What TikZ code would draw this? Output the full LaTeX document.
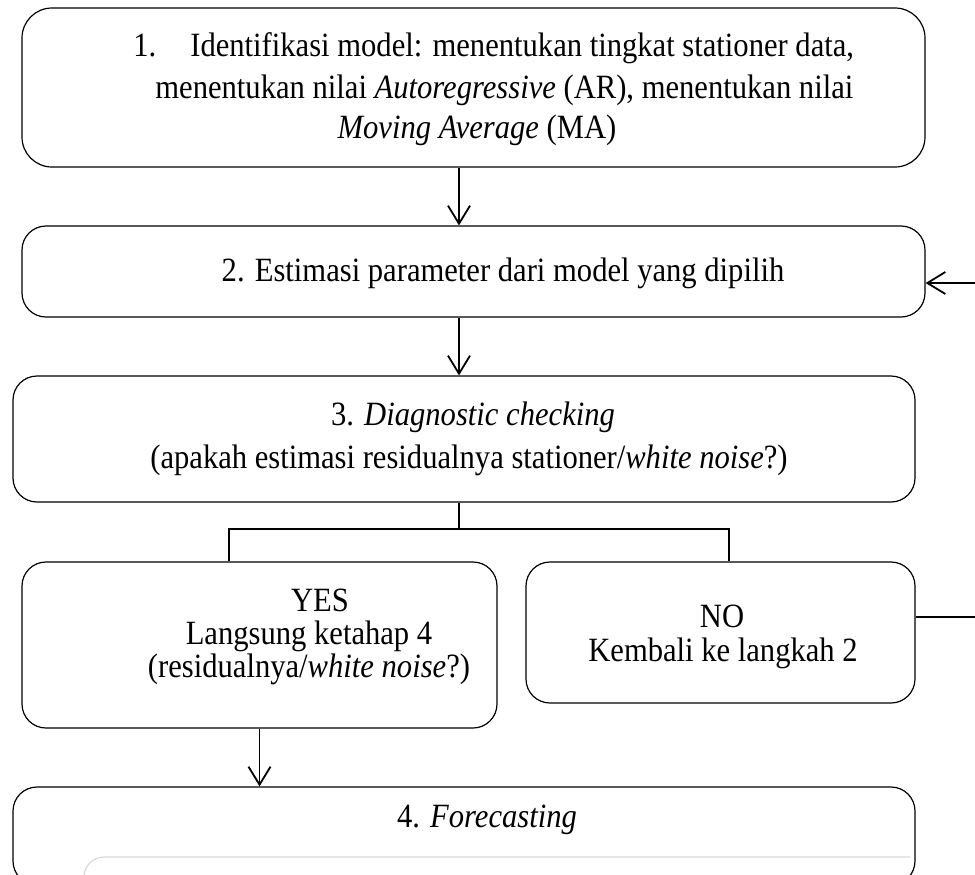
\documentclass[tikz,border=0pt]{standalone}
\usepackage{fontspec}
\setmainfont{Liberation Serif}[FakeStretch=0.9]
\usetikzlibrary{arrows.meta,positioning}
\tikzset{
stage/.style={draw,line width=.6pt,rounded corners=12pt,inner sep=0pt},
txt/.style={anchor=base,inner sep=0pt,font=\fontsize{17}{20}\selectfont},
flow/.style={-{Straight Barb[length=9pt,width=11pt,line width=.9pt]},line width=.9pt},
link/.style={line width=.9pt}
}

\begin{document}
\begin{tikzpicture}[x=.5pt,y=-.5pt]
\clip (0,0) rectangle (975,874);
% boxes
\node[stage,rounded corners=15pt,minimum width=451.5pt,minimum height=79.5pt](ident) at (473.5,87.5){};
\node[stage,minimum width=451.5pt,minimum height=45.5pt](estim) at (473.5,271.5){};
\node[stage,minimum width=451pt,minimum height=63pt](diag) at (464,439){};
\node[stage,minimum width=237.5pt,minimum height=83pt](yes) at (259.5,645){};
\node[stage,minimum width=194.5pt,minimum height=70.5pt](no) at (720.5,632.5){};
\node[stage,minimum width=451pt,minimum height=49pt](fcast) at (464,836){};
% texts
\node[txt,anchor=base west](t1a) at (133,56){1.\hspace{17pt}Identifikasi model: menentukan tingkat stationer data,};
\node[txt,anchor=base west](t1b) at (155,98){menentukan nilai \textit{Autoregressive} (AR), menentukan nilai};
\node[txt](t1c) at (477,138){\textit{Moving Average} (MA)};
\node[txt](t2) at (503,281){2. Estimasi parameter dari model yang dipilih};
\node[txt](t3a) at (473,425){3. \textit{Diagnostic checking}};
\node[txt](t3b) at (469,468){(apakah estimasi residualnya stationer/\textit{white noise}?)};
\node[txt](t4a) at (320,611){YES};
\node[txt](t4b) at (309,644){Langsung ketahap 4};
\node[txt](t4c) at (309,677){(residualnya/\textit{white noise}?)};
\node[txt](t5a) at (722,627){NO};
\node[txt](t5b) at (723,661){Kembali ke langkah 2};
\node[txt](t6) at (487,827){4. \textit{Forecasting}};
% connectors
\draw[flow]([xshift=-7.25pt]ident.south)--([xshift=-7.25pt]ident.south|-estim.north);
\draw[flow]([xshift=-7.25pt]estim.south)--([xshift=-7.25pt]estim.south|-diag.north);
\draw[link]([xshift=-2.5pt]diag.south)--++(0,26)coordinate(fork);
\draw[link]([xshift=-15.25pt]yes.north)|-(fork)-|([xshift=4.25pt]no.north);
\draw[flow]([yshift=7.75pt]no.east)--++(80,0)|-([yshift=-5.75pt]estim.east);
\draw[flow](yes.south)--(yes.south|-fcast.north);
\draw[gray!30,line width=.6pt,rounded corners=10pt](84,890)|-(910,857);
\end{tikzpicture}
\end{document}
